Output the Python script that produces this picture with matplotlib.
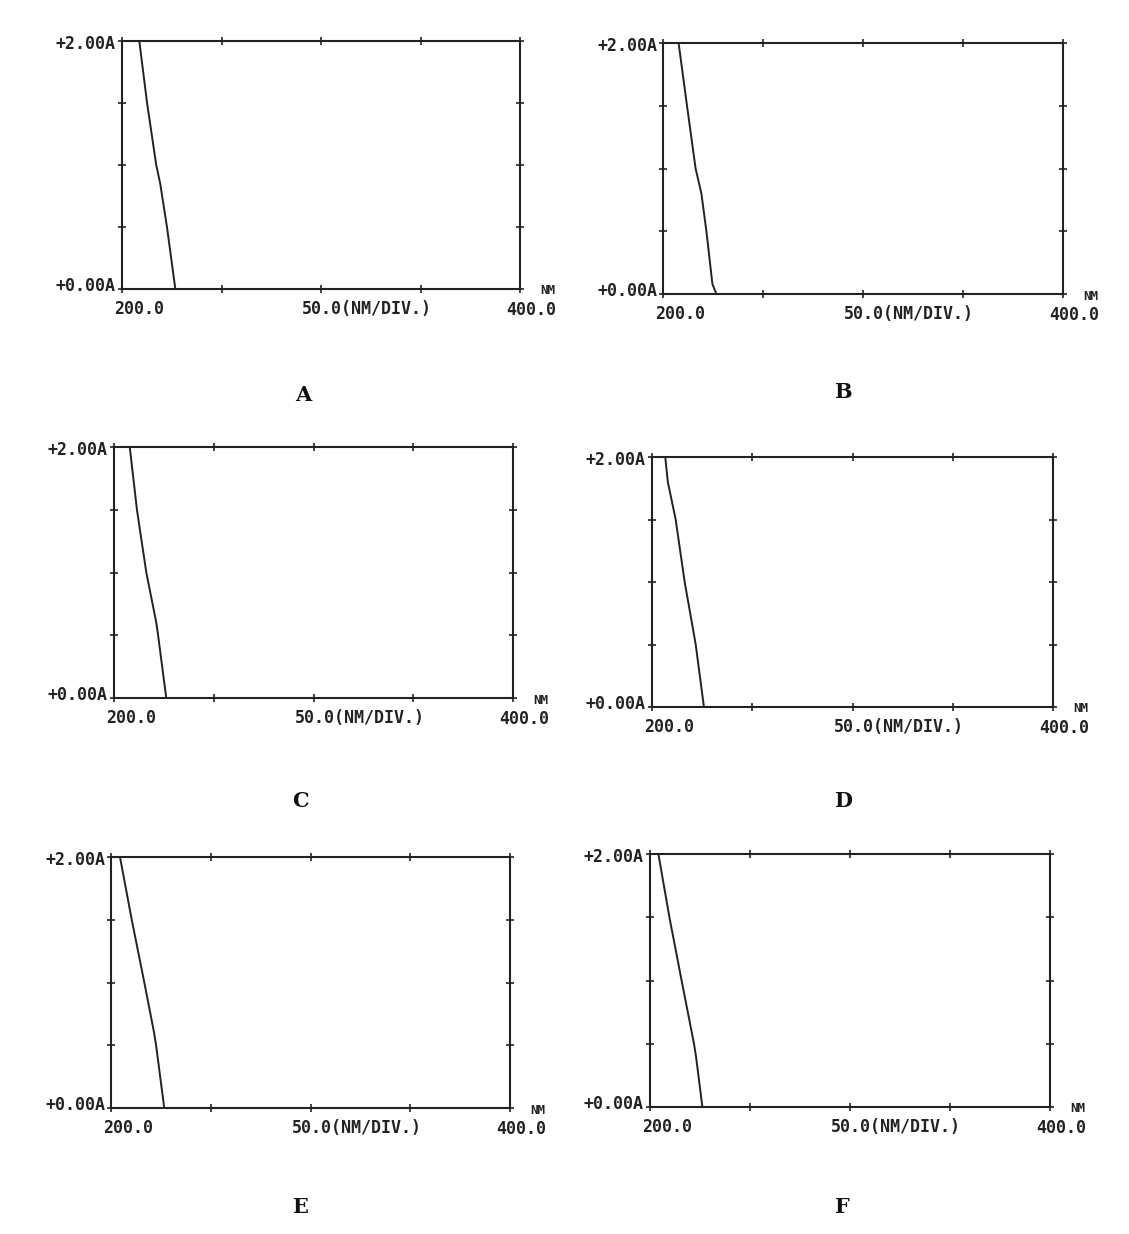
import matplotlib
matplotlib.use("Agg")
import matplotlib.pyplot as plt

W, H = 1129, 1234

# ---- data: absorbance levels and wavelengths (nm) where the trace crosses them ----
panel_labels = ["A", "B", "C", "D", "E", "F"]

abs_A = [2.0, 1.5, 1.0, 0.85, 0.5, 0.0]
wl_A = [208.7, 212.6, 217.2, 219.2, 222.6, 226.8]

abs_B = [2.0, 1.5, 1.0, 0.8, 0.5, 0.08, 0.0]
wl_B = [207.8, 212.0, 216.3, 219.2, 221.7, 224.7, 226.7]

abs_C = [2.0, 1.5, 1.0, 0.6, 0.5, 0.0]
wl_C = [207.9, 211.5, 216.2, 221.2, 222.1, 226.2]

abs_D = [2.0, 1.8, 1.5, 1.0, 0.7, 0.5, 0.0]
wl_D = [206.6, 207.9, 211.8, 216.3, 219.6, 221.8, 225.9]

abs_E = [2.0, 1.5, 1.0, 0.6, 0.5, 0.0]
wl_E = [204.5, 210.4, 216.7, 221.6, 222.6, 226.7]

abs_F = [2.0, 1.5, 1.0, 0.5, 0.4, 0.0]
wl_F = [204.2, 209.7, 215.8, 222.0, 223.0, 226.2]

series = [(wl_A, abs_A), (wl_B, abs_B), (wl_C, abs_C),
          (wl_D, abs_D), (wl_E, abs_E), (wl_F, abs_F)]

x_ticks = [200, 250, 300, 350, 400]
y_ticks = [0.0, 0.5, 1.0, 1.5, 2.0]
y_top_label = "+2.00A"
y_bot_label = "+0.00A"
x_left_label = "200.0"
x_mid_label = "50.0(NM/DIV.)"
x_right_label = "400.0"
x_unit_label = "NM"

# ---- layout (pixel boxes: left, right, top, bottom) ----
boxes = [(122, 520, 41, 289), (663, 1063, 43, 294),
         (114, 513, 447, 698), (652, 1053, 457, 707),
         (111, 510, 857, 1108), (650, 1050, 854, 1107)]
letter_pos = [(303, 395), (843, 392), (300, 801), (843, 801), (300, 1207), (842, 1207)]

ink = "#222222"
mono = dict(family="DejaVu Sans Mono", fontweight="bold", fontsize=12, color=ink)

fig = plt.figure(figsize=(W / 100, H / 100), dpi=100)
fig.patch.set_facecolor("white")


def fx(px):
    return px / W


def fy(py):
    return 1 - py / H


for (wl, ab), (l, r, t, b), lab, (lx, ly) in zip(series, boxes, panel_labels, letter_pos):
    ax = fig.add_axes([fx(l), fy(b), (r - l) / W, (b - t) / H])
    ax.plot(wl, ab, color=ink, lw=1.4, solid_joinstyle="round", clip_on=True)
    ax.set_xlim(200, 400)
    ax.set_ylim(0, 2)
    ax.set_xticks(x_ticks)
    ax.set_yticks(y_ticks)
    ax.tick_params(axis="both", which="both", direction="inout", length=6, width=1.2,
                   color=ink, top=True, right=True, labelbottom=False, labelleft=False)
    for s in ax.spines.values():
        s.set_color(ink)
        s.set_linewidth(1.5)

    fig.text(fx(l - 6), fy(t + 3), y_top_label, ha="right", va="center", **mono)
    fig.text(fx(l - 6), fy(b - 3), y_bot_label, ha="right", va="center", **mono)
    fig.text(fx(l + 17), fy(b + 20), x_left_label, ha="center", va="center", **mono)
    fig.text(fx((l + r) / 2 - 19), fy(b + 20), x_mid_label, ha="left", va="center", **mono)
    fig.text(fx(r + 36), fy(b + 21), x_right_label, ha="right", va="center", **mono)
    fig.text(fx(r + 35), fy(b + 2), x_unit_label, ha="right", va="center",
             family="DejaVu Sans Mono", fontweight="bold", fontsize=9, color=ink)

    fig.text(fx(lx), fy(ly), lab, ha="center", va="center",
             family="DejaVu Serif", fontweight="bold", fontsize=15, color="#111111")

fig.savefig("out.png", dpi=100, facecolor="white")
